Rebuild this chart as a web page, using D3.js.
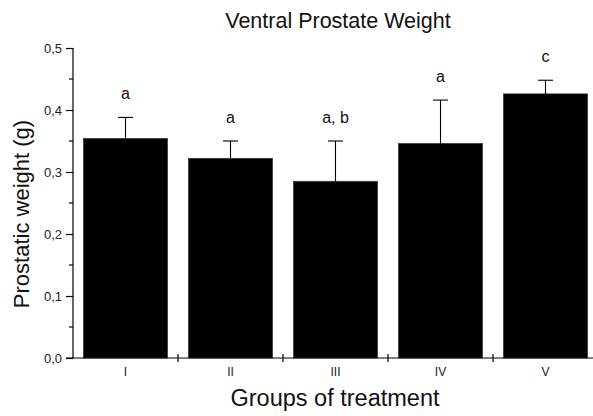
<!DOCTYPE html>
<html>
<head>
<meta charset="utf-8">
<script src="https://cdn.jsdelivr.net/npm/d3@7"></script>
<style>
  html, body { margin: 0; padding: 0; background: #fff; }
  svg { display: block; font-family: "Liberation Sans", Arial, sans-serif; }
</style>
</head>
<body>
<div id="chart"></div>
<script>
// Ventral prostate weight per treatment group (mean + SD).
const groups  = ['I', 'II', 'III', 'IV', 'V'];
const means   = [0.354, 0.322, 0.285, 0.346, 0.426];
const errors  = [0.034, 0.028, 0.065, 0.070, 0.022];
const letters = ['a', 'a', 'a, b', 'a', 'c'];
const yTicks  = [0, 0.1, 0.2, 0.3, 0.4, 0.5];

const width = 593, height = 416;
// the x axis runs past the right edge of the window, as in the original export
const margin = { top: 48, right: -5, bottom: 58, left: 73 };

const svg = d3.select('#chart').append('svg')
  .attr('width', width)
  .attr('height', height);

const x = d3.scaleBand()
  .domain(groups)
  .range([margin.left, width - margin.right])
  .padding(0);

const y = d3.scaleLinear()
  .domain([0, 0.5])
  .range([height - margin.bottom, margin.top]);

const barW = x.bandwidth() * 0.8;
const fmt = d => d3.format('.1f')(d).replace('.', ',');

// Bars.
svg.append('g')
  .selectAll('rect')
  .data(groups)
  .join('rect')
  .attr('x', (d) => x(d) + (x.bandwidth() - barW) / 2)
  .attr('y', (d, i) => y(means[i]))
  .attr('width', barW)
  .attr('height', (d, i) => y(0) - y(means[i]))
  .attr('fill', '#000')
  .attr('stroke', '#3a3a3a')
  .attr('stroke-width', 0.8);

// Error bars (upper only).
const eb = svg.append('g')
  .attr('stroke', '#000')
  .attr('stroke-width', 1.1);

groups.forEach((g, i) => {
  const cx = x(g) + x.bandwidth() / 2;
  eb.append('line')
    .attr('x1', cx).attr('x2', cx)
    .attr('y1', y(means[i])).attr('y2', y(means[i] + errors[i]));
  eb.append('line')
    .attr('x1', cx - 7.5).attr('x2', cx + 7.5)
    .attr('y1', y(means[i] + errors[i])).attr('y2', y(means[i] + errors[i]));
});

// Significance letters.
svg.append('g')
  .selectAll('text')
  .data(groups)
  .join('text')
  .attr('x', d => x(d) + x.bandwidth() / 2)
  .attr('y', (d, i) => y(means[i] + errors[i]) - 18)
  .attr('text-anchor', 'middle')
  .attr('font-size', 16)
  .attr('fill', '#111')
  .text((d, i) => letters[i]);

// Y axis: major ticks with labels, minor ticks in between.
const yAxis = svg.append('g')
  .attr('transform', `translate(${margin.left},0)`)
  .call(d3.axisLeft(y).tickValues(yTicks).tickFormat(fmt).tickSize(7).tickPadding(4))
  .call(g => g.select('.domain').attr('d', `M0,${y(0)}V${y(0.5)}`));

yAxis.selectAll('.tick line').attr('stroke-width', 1.2);
yAxis.selectAll('.tick text')
  .attr('font-size', 13)
  .attr('font-family', '"Liberation Sans", Arial, sans-serif')
  .attr('fill', '#222');
yAxis.select('.domain').attr('stroke-width', 1.2);

yAxis.append('g')
  .selectAll('line')
  .data(d3.range(0.05, 0.5, 0.1))
  .join('line')
  .attr('x1', -4).attr('x2', 0)
  .attr('y1', d => y(d)).attr('y2', d => y(d))
  .attr('stroke', '#000')
  .attr('stroke-width', 1.2);

// X axis: group labels at centres, ticks at the band boundaries.
const xAxis = svg.append('g')
  .attr('transform', `translate(0,${y(0)})`)
  .call(d3.axisBottom(x).tickSize(0).tickPadding(9));

xAxis.select('.domain')
  .attr('d', `M${margin.left - 7},0H${width}`)
  .attr('stroke-width', 1.2);
xAxis.selectAll('.tick text')
  .attr('font-size', 12)
  .attr('font-family', '"Liberation Sans", Arial, sans-serif')
  .attr('fill', '#222');

xAxis.append('g')
  .selectAll('line')
  .data(groups.slice(1))
  .join('line')
  .attr('x1', d => x(d)).attr('x2', d => x(d))
  .attr('y1', -4).attr('y2', 4)
  .attr('stroke', '#000')
  .attr('stroke-width', 1.2);

// Titles.
svg.append('text')
  .attr('x', 338)
  .attr('y', 28)
  .attr('text-anchor', 'middle')
  .attr('font-size', 21.5)
  .attr('fill', '#111')
  .text('Ventral Prostate Weight');

svg.append('text')
  .attr('x', 335)
  .attr('y', 406)
  .attr('text-anchor', 'middle')
  .attr('font-size', 23.5)
  .attr('fill', '#111')
  .text('Groups of treatment');

svg.append('text')
  .attr('transform', `translate(29,${(y(0) + y(0.5)) / 2 + 11}) rotate(-90)`)
  .attr('text-anchor', 'middle')
  .attr('font-size', 22)
  .attr('fill', '#111')
  .text('Prostatic weight (g)');
</script>
</body>
</html>
